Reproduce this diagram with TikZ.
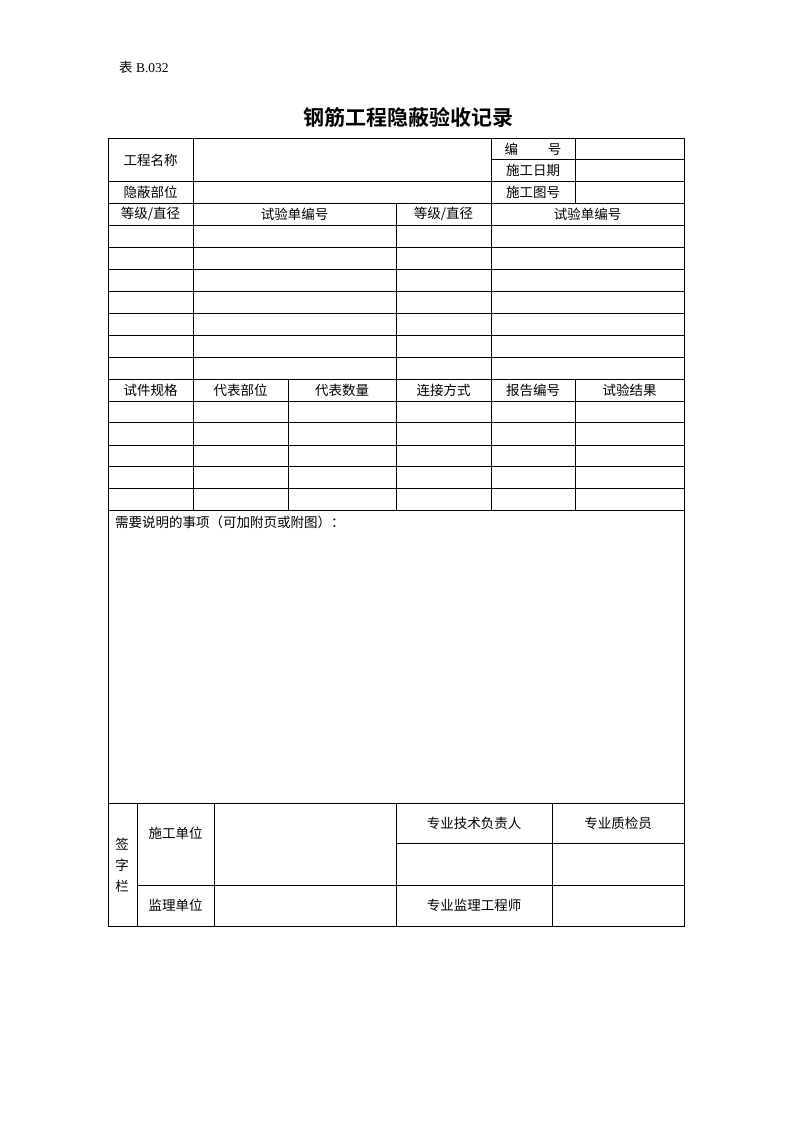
\documentclass[tikz,border=0pt]{standalone}
\usepackage{fontspec}
\setmainfont{Liberation Serif}
\newfontfamily\cjk{Noto Sans CJK SC}
\newfontfamily\cjkb{Noto Sans CJK SC}[BoldFont={* Bold}]
\begin{document}
\begin{tikzpicture}[x=1pt,y=-1pt,
  grid/.style={line width=0.9pt,black},
  cell/.style={font=\cjk\fontsize{13.5}{14}\selectfont,inner sep=0pt,anchor=center}]
\useasboundingbox (0,0) rectangle (794,1123);
% header texts
\node[anchor=west,inner sep=0pt,font=\fontsize{13.5}{14}\selectfont] (tab) at (119,67) {{\cjk 表} B.032};
\node[inner sep=0pt,font=\cjkb\bfseries\fontsize{21}{22}\selectfont] (title) at (408,117) {钢筋工程隐蔽验收记录};
% outer frame
\draw[grid] (108,138) rectangle (684,926);
% horizontal lines
\draw[grid] (491,159.5) -- (684,159.5);
\foreach \y in {181.5,203.5,225.5,247.5,269.5,291.5,313.5,335.5,357.5,379,401,422.5,445,466.5,488.5,510.5,803.5}
  \draw[grid] (108,\y) -- (684,\y);
\draw[grid] (137,885.5) -- (684,885.5);
\draw[grid] (396,843.5) -- (684,843.5);
% vertical lines
\draw[grid] (193,138) -- (193,510.5);
\draw[grid] (491,138) -- (491,510.5);
\draw[grid] (575,138) -- (575,203.5);
\draw[grid] (396,203.5) -- (396,510.5);
\draw[grid] (288,379) -- (288,510.5);
\draw[grid] (575,379) -- (575,510.5);
\draw[grid] (137,803.5) -- (137,926);
\draw[grid] (214,803.5) -- (214,926);
\draw[grid] (396,803.5) -- (396,926);
\draw[grid] (552,803.5) -- (552,926);
% cell texts
\node[cell] (gcmc) at (150.5,160) {工程名称};
\node[cell] (bh) at (533,149) {编\hspace{2.2em}号};
\node[cell] (sgrq) at (533,170.5) {施工日期};
\node[cell] (ybbw) at (150.5,192.5) {隐蔽部位};
\node[cell] (sgth) at (533,192.5) {施工图号};
\node[cell] (dj1) at (150.5,214.5) {等级/直径};
\node[cell] (sy1) at (294.5,214.5) {试验单编号};
\node[cell] (dj2) at (443.5,214.5) {等级/直径};
\node[cell] (sy2) at (587.5,214.5) {试验单编号};
\node[cell] (sjgg) at (150.5,390) {试件规格};
\node[cell] (dbbw) at (240.5,390) {代表部位};
\node[cell] (dbsl) at (342,390) {代表数量};
\node[cell] (ljfs) at (443.5,390) {连接方式};
\node[cell] (bgbh) at (533,390) {报告编号};
\node[cell] (syjg) at (629.5,390) {试验结果};
\node[cell,anchor=west] (xysm) at (115,522.5) {需要说明的事项（可加附页或附图）：};
\node[cell] (q1) at (122,844) {签};
\node[cell] (q2) at (122,865) {字};
\node[cell] (q3) at (122,886) {栏};
\node[cell] (sgdw) at (175.5,833) {施工单位};
\node[cell] (jldw) at (175.5,905.5) {监理单位};
\node[cell] (zyjs) at (474,823.5) {专业技术负责人};
\node[cell] (zyzj) at (618,823.5) {专业质检员};
\node[cell] (zyjl) at (474,905.5) {专业监理工程师};
\end{tikzpicture}
\end{document}
